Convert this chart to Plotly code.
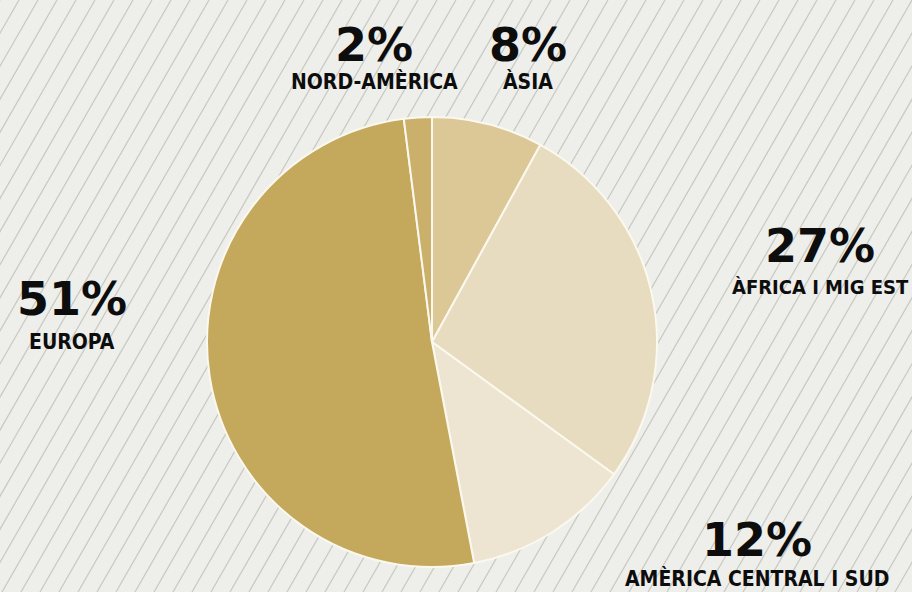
import plotly.graph_objects as go

# Data
regions = ["ÀSIA", "ÀFRICA I MIG EST", "AMÈRICA CENTRAL I SUD", "EUROPA", "NORD-AMÈRICA"]
shares = [8, 27, 12, 51, 2]
pct_labels = ["8%", "27%", "12%", "51%", "2%"]
colors = ["#dcc797", "#e7dcbf", "#ede5d1", "#c4a85c", "#cbb06c"]

W, H = 912, 592
fig = go.Figure()

fig.add_trace(go.Pie(
    labels=regions,
    values=shares,
    sort=False,
    direction="clockwise",
    rotation=0,
    marker=dict(colors=colors, line=dict(color="#fbf8ee", width=2)),
    textinfo="none",
    hoverinfo="label+percent",
    showlegend=False,
    domain=dict(x=[(432 - 225) / W, (432 + 225) / W], y=[1 - 567 / H, 1 - 117 / H]),
))

# background stripes
shapes = []
dx = 340
x0 = -dx
while x0 < W + 20:
    shapes.append(dict(type="line", xref="paper", yref="paper",
                       x0=x0 / W, y0=0, x1=(x0 + dx) / W, y1=1,
                       line=dict(color="#c8c8c2", width=1.2), layer="below"))
    x0 += 19

# label positions: (x, anchor, pct y, name y, pct size, name size)
label_pos = {
    "ÀSIA": (528, "center", 45, 82, 46, 21),
    "ÀFRICA I MIG EST": (820, "center", 246, 287, 46, 20),
    "AMÈRICA CENTRAL I SUD": (757, "center", 540, 578, 46, 21),
    "EUROPA": (72, "center", 299, 342, 46, 21),
    "NORD-AMÈRICA": (374, "center", 45, 82, 46, 21),
}
annotations = []
for reg, pct in zip(regions, pct_labels):
    cx, anc, py, ny, ps, ns = label_pos[reg]
    annotations.append(dict(x=cx / W, y=1 - py / H, xref="paper", yref="paper",
                            text="<b>" + pct + "</b>", showarrow=False,
                            font=dict(family="DejaVu Sans", size=ps, color="#0d0d0d"),
                            xanchor="center", yanchor="middle"))
    nx = cx
    nanc = "center"
    if reg == "ÀFRICA I MIG EST":
        nx, nanc = 911, "right"
    annotations.append(dict(x=nx / W, y=1 - ny / H, xref="paper", yref="paper",
                            text="<b>" + reg + "</b>", showarrow=False,
                            font=dict(family="DejaVu Sans Condensed, Liberation Sans Narrow", size=ns, color="#0d0d0d"),
                            xanchor=nanc, yanchor="middle"))

fig.update_layout(
    width=W, height=H,
    margin=dict(l=0, r=0, t=0, b=0),
    paper_bgcolor="#eeeeea",
    plot_bgcolor="#eeeeea",
    shapes=shapes,
    annotations=annotations,
)

fig.write_html("out.html")
